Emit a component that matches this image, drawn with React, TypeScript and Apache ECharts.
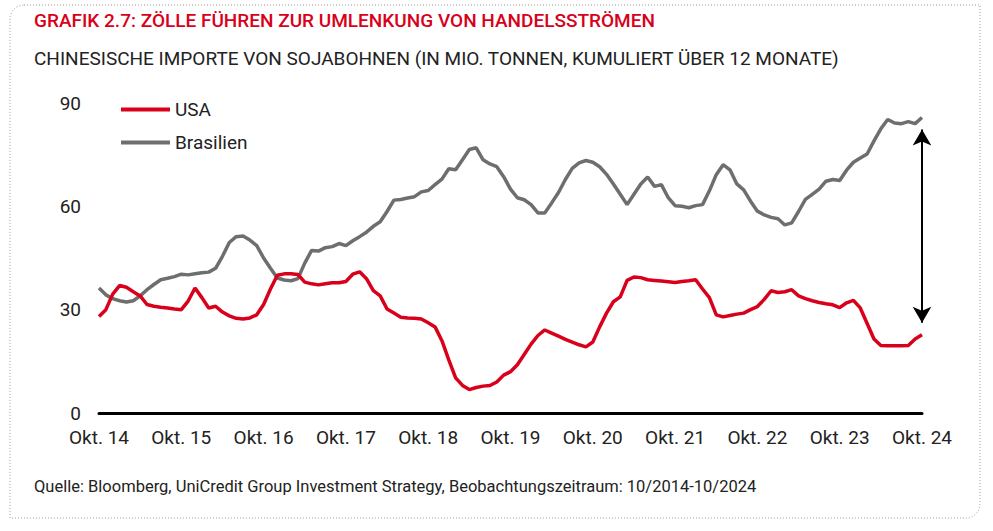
import React, { useEffect, useRef } from "react";
import * as echarts from "echarts";

const titleText = "GRAFIK 2.7: ZÖLLE FÜHREN ZUR UMLENKUNG VON HANDELSSTRÖMEN";
const subtitleText = "CHINESISCHE IMPORTE VON SOJABOHNEN (IN MIO. TONNEN, KUMULIERT ÜBER 12 MONATE)";
const sourceText = "Quelle: Bloomberg, UniCredit Group Investment Strategy, Beobachtungszeitraum: 10/2014-10/2024";

const seriesNames = ["USA", "Brasilien"];
const yTicks = [0, 30, 60, 90];
const tickLabels = ["Okt. 14", "Okt. 15", "Okt. 16", "Okt. 17", "Okt. 18", "Okt. 19", "Okt. 20", "Okt. 21", "Okt. 22", "Okt. 23", "Okt. 24"];

// monthly categories Oct 2014 .. Oct 2024
const months: string[] = [];
for (let y = 2014; y <= 2024; y++) {
  for (let m = 1; m <= 12; m++) {
    if ((y === 2014 && m < 10) || (y === 2024 && m > 10)) continue;
    months.push(`${y}-${String(m).padStart(2, "0")}`);
  }
}

const usa = [
  28, 30, 34.5, 37, 36.5, 35.2, 34, 31.5, 31, 30.7, 30.5, 30.2,
  30, 32.5, 36.3, 33.5, 30.5, 31, 29.3, 28.2, 27.5, 27.3, 27.6, 28.5,
  31.5, 36, 40, 40.4, 40.4, 40.2, 38, 37.5, 37.2, 37.5, 37.8, 37.8,
  38.2, 40.3, 41, 39, 35.5, 34, 30.2, 29, 27.8, 27.6, 27.5, 27.3,
  26.2, 25, 21, 15.4, 10.2, 8, 6.8, 7.4, 7.8, 8, 9, 11,
  12, 14, 17, 20, 22.5, 24.1, 23.2, 22.3, 21.4, 20.6, 19.8, 19.2,
  20.6, 25, 29, 32.3, 33.7, 38.5, 39.5, 39.3, 38.7, 38.5, 38.3, 38.1,
  37.9, 38.2, 38.4, 38.7, 36, 33.5, 28.5, 27.9, 28.3, 28.7, 29, 30,
  30.9, 33, 35.5, 35, 35.2, 35.8, 34, 33.2, 32.6, 32.1, 31.7, 31.4,
  30.6, 32, 32.7, 30.5, 26, 21.5, 19.6, 19.5, 19.5, 19.5, 19.6, 21.5,
  22.7,
];

const brasilien = [
  36.3, 34.3, 33.2, 32.6, 32.2, 32.6, 34, 35.8, 37.3, 38.7, 39.1, 39.6,
  40.3, 40.1, 40.4, 40.7, 40.9, 42, 45.5, 49.5, 51.2, 51.4, 50.2, 48.6,
  45, 42, 39.2, 38.6, 38.4, 39, 43.5, 47.2, 47, 48, 48.3, 49.2,
  48.6, 50, 51.2, 52.5, 54.2, 55.5, 58.5, 61.8, 62, 62.4, 62.8, 64.2,
  64.6, 66.3, 67.9, 70.9, 70.6, 73.5, 76.5, 77, 73.5, 72.3, 71.5, 68.6,
  65, 62.5, 61.9, 60.5, 58.1, 58.1, 61, 64, 67.8, 71, 72.6, 73.3,
  72.8, 71.5, 69.3, 66.5, 63.5, 60.5, 63.5, 66.5, 68.5, 65.8, 66.3, 62.5,
  60.2, 60, 59.6, 60.2, 60.5, 64.5, 69.2, 72.1, 70.6, 66.5, 64.8, 61.5,
  58.6, 57.5, 56.8, 56.4, 54.6, 55.2, 58.5, 62, 63.5, 65, 67.3, 67.8,
  67.5, 70.5, 72.8, 74, 75.2, 79, 82.5, 85.2, 84.2, 84, 84.6, 84,
  85.8,
];

// arrow annotation (gap between the two series at the end)
const arrowTop = 82.3;
const arrowBottom = 26.2;

const RED = "#d8001a";
const GRAY = "#6e6e6e";
const TEXT = "#222222";
const FONT = "Roboto";

export default function App() {
  const ref = useRef<HTMLDivElement>(null);
  useEffect(() => {
    document.body.style.margin = "0";
    const chart = echarts.init(ref.current!, null, { renderer: "svg" });
    chart.setOption({
      animation: false,
      backgroundColor: "#ffffff",
      textStyle: { fontFamily: FONT },
      graphic: [
        {
          type: "rect",
          shape: { x: 10, y: 5, width: 970, height: 513, r: [14, 0, 14, 0] },
          style: { fill: "none", stroke: "#9a9a9a", lineWidth: 1, lineDash: [1, 2] },
          silent: true,
        },
        {
          type: "text",
          left: 34,
          top: 11,
          style: { text: titleText, fill: RED, font: `500 19px ${FONT}` },
        },
        {
          type: "text",
          left: 34,
          top: 49,
          style: { text: subtitleText, fill: TEXT, font: `400 19px ${FONT}` },
        },
        {
          type: "text",
          left: 34,
          top: 478,
          style: { text: sourceText, fill: TEXT, font: `400 16.5px ${FONT}` },
        },
      ],
      legend: {
        data: seriesNames,
        orient: "vertical",
        left: 121,
        top: 100,
        padding: 0,
        itemWidth: 49,
        itemHeight: 4,
        itemGap: 14,
        icon: "rect",
        textStyle: { color: TEXT, fontSize: 19, fontFamily: FONT },
      },
      grid: { left: 99, right: 71, top: 103, bottom: 118, containLabel: false },
      xAxis: {
        type: "category",
        data: months,
        boundaryGap: false,
        axisLine: { show: true, lineStyle: { color: "#000", width: 3 } },
        axisTick: { show: false },
        axisLabel: {
          interval: (idx: number) => idx % 12 === 0,
          formatter: (_v: string, idx: number) => tickLabels[idx / 12] ?? "",
          color: TEXT,
          fontSize: 19,
          fontFamily: FONT,
          margin: 15,
        },
        splitLine: { show: false },
      },
      yAxis: {
        type: "value",
        min: yTicks[0],
        max: yTicks[yTicks.length - 1],
        interval: 30,
        axisLine: { show: false },
        axisTick: { show: false },
        splitLine: { show: false },
        axisLabel: { color: TEXT, fontSize: 19, fontFamily: FONT, margin: 18 },
      },
      series: [
        {
          name: seriesNames[0],
          type: "line",
          data: usa,
          showSymbol: false,
          symbol: "none",
          lineStyle: { color: RED, width: 3.5 },
          itemStyle: { color: RED },
          z: 3,
        },
        {
          name: seriesNames[1],
          type: "line",
          data: brasilien,
          showSymbol: false,
          symbol: "none",
          lineStyle: { color: GRAY, width: 3.5 },
          itemStyle: { color: GRAY },
          z: 2,
          markLine: {
            silent: true,
            symbol: ["arrow", "arrow"],
            symbolSize: [14, 16],
            label: { show: false },
            lineStyle: { color: "#000", width: 2, type: "solid" },
            data: [
              [
                { coord: [months[months.length - 1], arrowTop] },
                { coord: [months[months.length - 1], arrowBottom] },
              ],
            ],
          },
        },
      ],
    });
    return () => chart.dispose();
  }, []);
  return <div ref={ref} style={{ width: 993, height: 531 }} />;
}
